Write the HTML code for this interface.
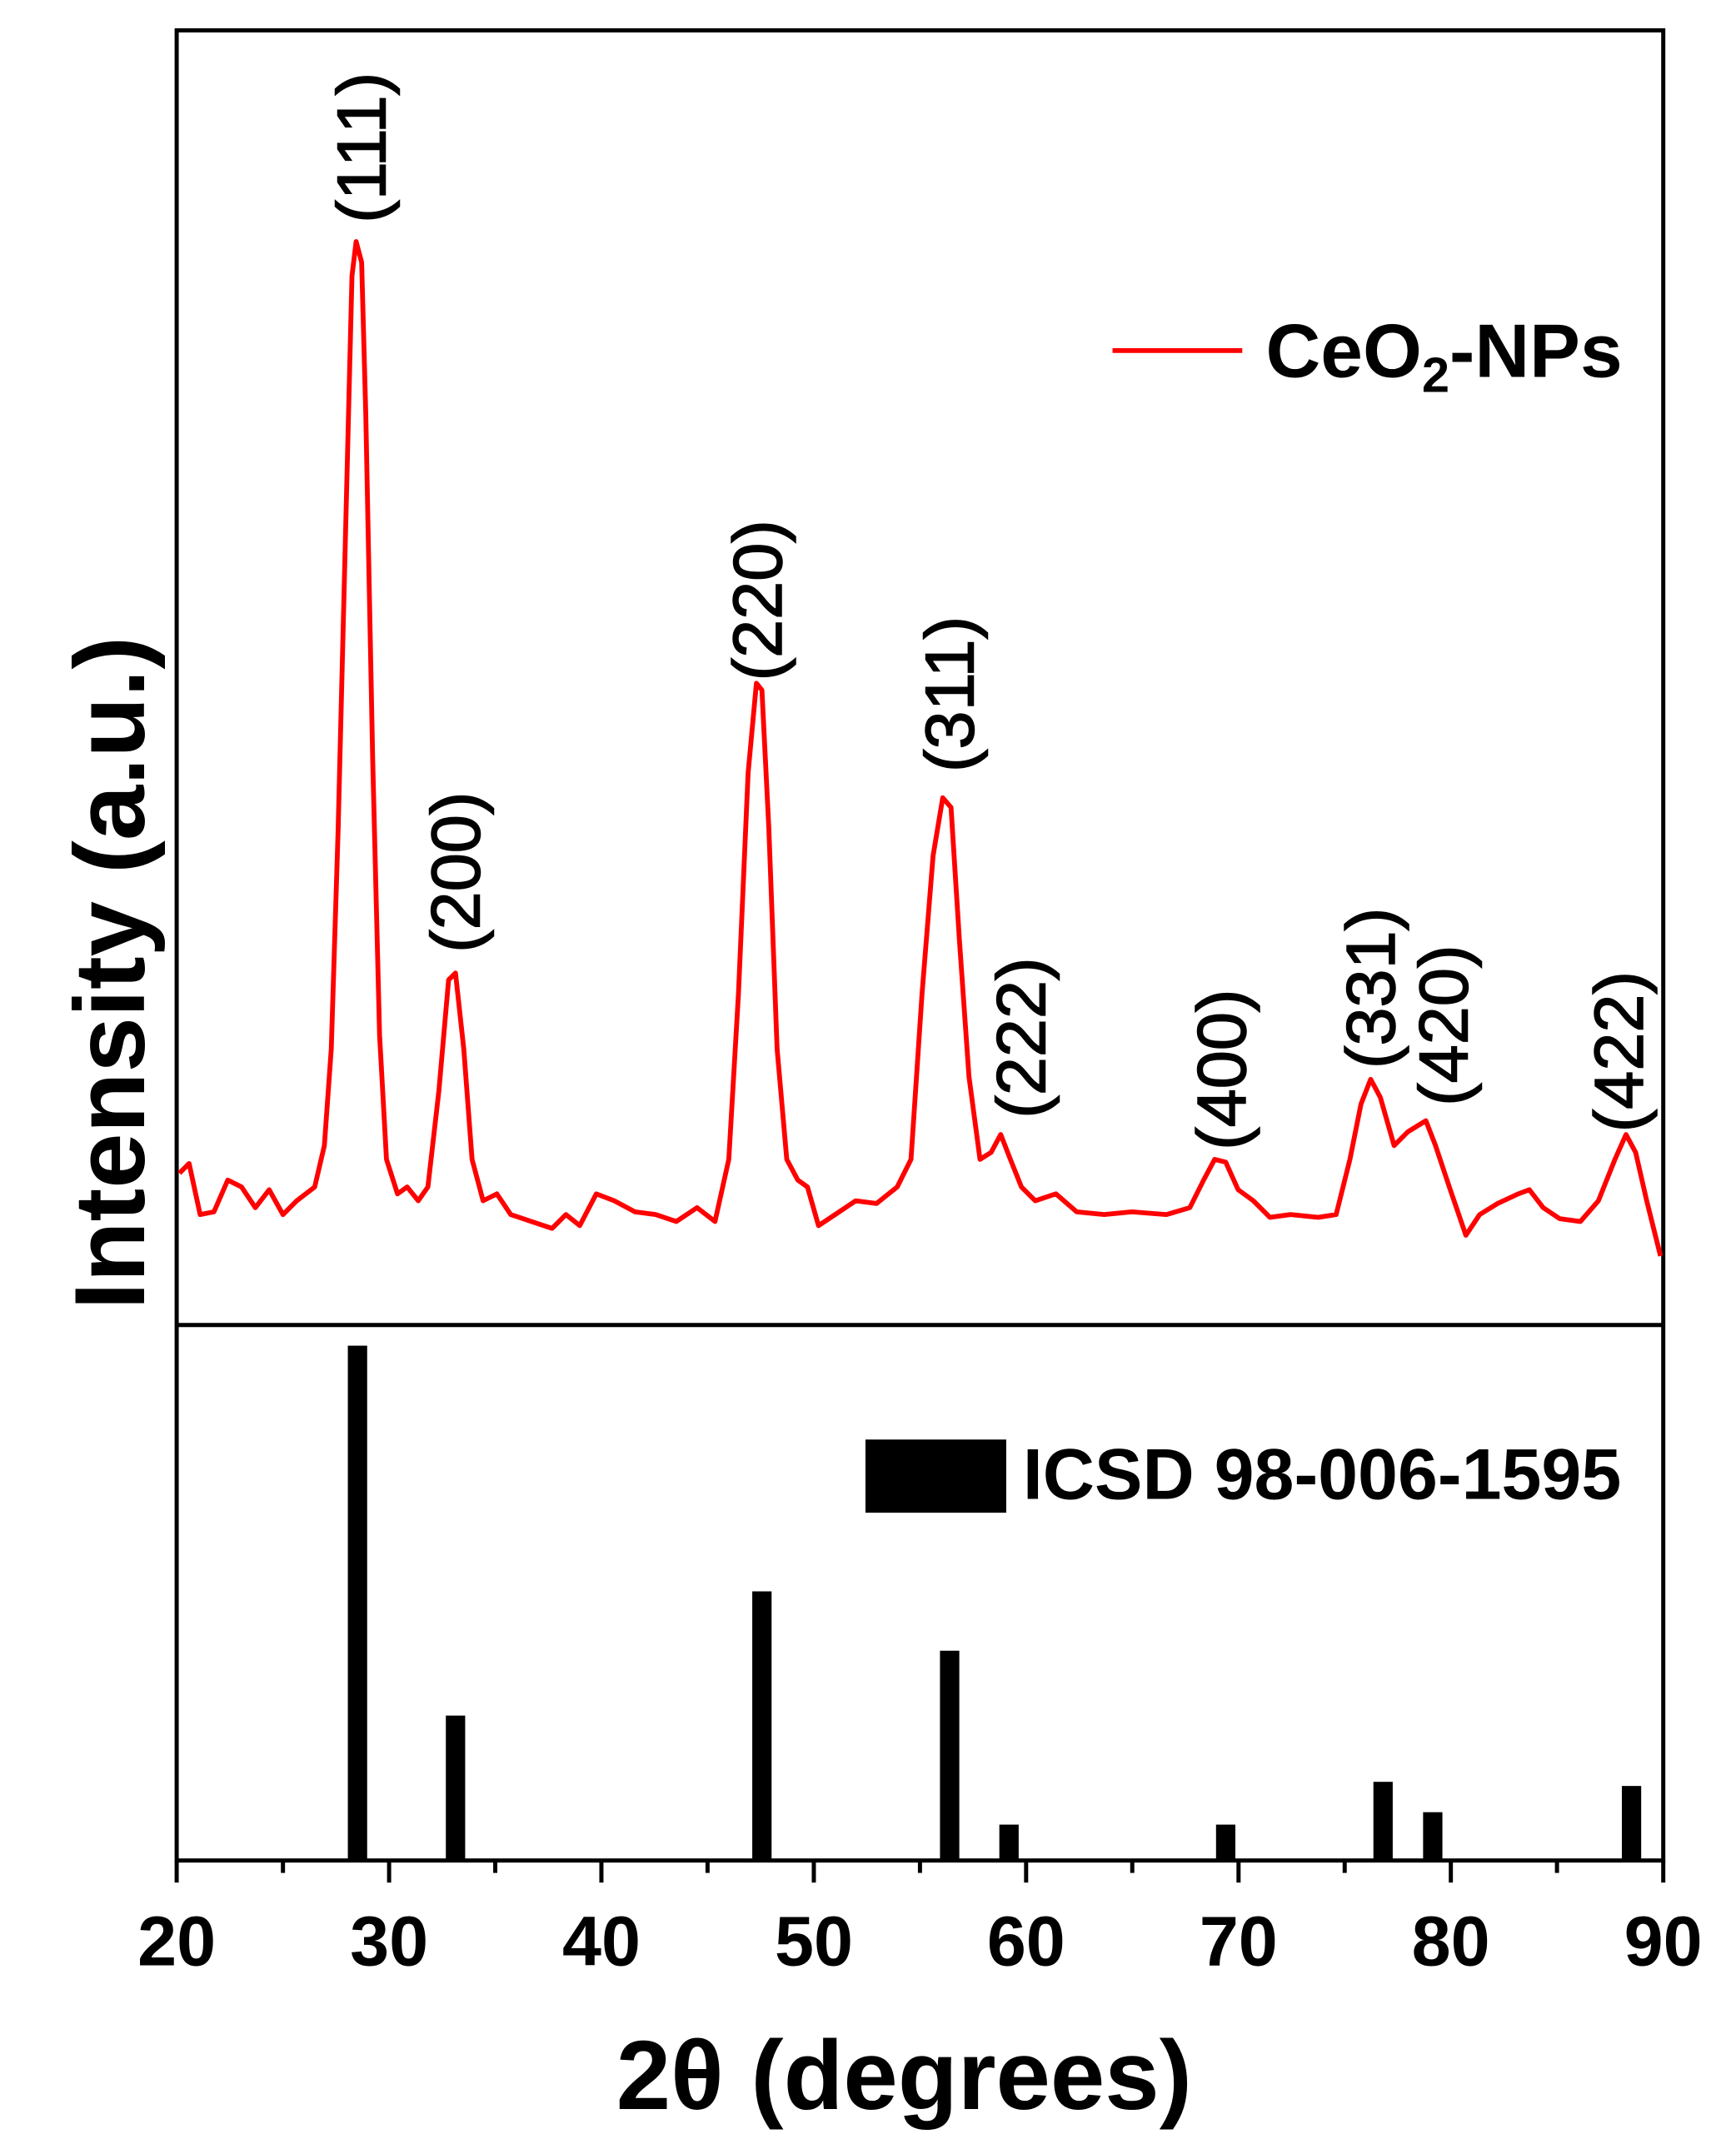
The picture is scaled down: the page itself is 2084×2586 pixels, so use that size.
<!DOCTYPE html>
<html><head><meta charset="utf-8"><style>html,body{margin:0;padding:0;background:#fff}svg{display:block}</style></head>
<body>
<svg width="2084" height="2586" viewBox="0 0 2084 2586" xmlns="http://www.w3.org/2000/svg">
<g transform="scale(1.657)" font-family="Liberation Sans, Arial, sans-serif">
<rect x="0" y="0" width="1258" height="1561" fill="#fff"/>
<rect x="128" y="22" width="1077" height="1326" fill="none" stroke="#000" stroke-width="3"/>
<line x1="128" y1="960" x2="1205" y2="960" stroke="#000" stroke-width="3"/>
<g stroke="#000" stroke-width="3">
<line x1="128" y1="1348" x2="128" y2="1364"/><line x1="281.9" y1="1348" x2="281.9" y2="1364"/><line x1="435.7" y1="1348" x2="435.7" y2="1364"/><line x1="589.6" y1="1348" x2="589.6" y2="1364"/><line x1="743.4" y1="1348" x2="743.4" y2="1364"/><line x1="897.3" y1="1348" x2="897.3" y2="1364"/><line x1="1051.1" y1="1348" x2="1051.1" y2="1364"/><line x1="1205" y1="1348" x2="1205" y2="1364"/>
<line x1="205" y1="1348" x2="205" y2="1357"/><line x1="358.8" y1="1348" x2="358.8" y2="1357"/><line x1="512.6" y1="1348" x2="512.6" y2="1357"/><line x1="666.5" y1="1348" x2="666.5" y2="1357"/><line x1="820.3" y1="1348" x2="820.3" y2="1357"/><line x1="974.2" y1="1348" x2="974.2" y2="1357"/><line x1="1128" y1="1348" x2="1128" y2="1357"/>
</g>
<g font-size="51" font-weight="bold" text-anchor="middle">
<text x="128" y="1424">20</text><text x="281.9" y="1424">30</text><text x="435.7" y="1424">40</text><text x="589.6" y="1424">50</text><text x="743.4" y="1424">60</text><text x="897.3" y="1424">70</text><text x="1051.1" y="1424">80</text><text x="1205" y="1424">90</text>
</g>
<text x="655" y="1528" font-size="71" font-weight="bold" text-anchor="middle">2θ (degrees)</text>
<text transform="translate(80,705) rotate(-90)" font-size="72" font-weight="bold" text-anchor="middle" dominant-baseline="central">Intensity (a.u.)</text>
<polyline fill="none" stroke="#ff0000" stroke-width="3.5" stroke-linejoin="round" points="130,850 137,843 145,880 155,878 165,855 175,860 185,875 195,862 205,880 215,870 228,860 235,830 240,760 245,600 250,400 255,200 258,175 262,190 265,300 270,550 275,750 280,840 288,865 295,860 303,870 310,860 318,790 325,710 330,705 336,760 342,840 350,870 360,865 370,880 385,885 400,890 410,880 420,888 432,865 445,870 460,878 475,880 490,885 505,875 518,885 528,840 535,720 542,560 548,495 552,500 557,600 563,760 570,840 578,855 585,860 593,888 605,880 620,870 635,872 650,860 660,840 668,720 676,620 683,578 689,585 695,680 702,780 710,840 718,835 725,822 732,840 740,860 750,870 765,865 780,878 800,880 820,878 845,880 862,875 872,855 880,840 888,842 897,862 908,870 920,882 935,880 955,882 968,880 978,840 986,800 993,782 1000,795 1010,830 1020,820 1033,812 1040,830 1050,860 1062,895 1072,880 1085,872 1100,865 1108,862 1118,875 1130,883 1145,885 1158,870 1170,840 1178,822 1185,835 1193,870 1203,910"/>
<g font-size="50" text-anchor="middle" dominant-baseline="central" stroke="#000" stroke-width="0.9">
<text transform="translate(262,107) rotate(-90)">(111)</text>
<text transform="translate(330,632) rotate(-90)">(200)</text>
<text transform="translate(549,435) rotate(-90)">(220)</text>
<text transform="translate(688,503) rotate(-90)">(311)</text>
<text transform="translate(740,752) rotate(-90)">(222)</text>
<text transform="translate(885,775) rotate(-90)">(400)</text>
<text transform="translate(993,716) rotate(-90)">(331)</text>
<text transform="translate(1046,743) rotate(-90)">(420)</text>
<text transform="translate(1173,762) rotate(-90)">(422)</text>
</g>
<line x1="806" y1="254" x2="900" y2="254" stroke="#ff0000" stroke-width="3.5"/>
<text x="917" y="273" font-size="55" font-weight="bold">CeO<tspan font-size="36" dy="11">2</tspan><tspan dy="-11">-NPs</tspan></text>
<rect x="627" y="1043" width="102" height="53" fill="#000"/>
<text x="741" y="1086" font-size="52" font-weight="bold">ICSD 98-006-1595</text>
<g fill="#000">
<rect x="252" y="975" width="14" height="373"/>
<rect x="323" y="1243" width="14" height="105"/>
<rect x="545" y="1153" width="14" height="195"/>
<rect x="681" y="1196" width="14" height="152"/>
<rect x="724" y="1322" width="14" height="26"/>
<rect x="881" y="1322" width="14" height="26"/>
<rect x="995" y="1291" width="14" height="57"/>
<rect x="1031" y="1313" width="14" height="35"/>
<rect x="1175" y="1294" width="14" height="54"/>
</g>
</g>
</svg>
</body></html>
